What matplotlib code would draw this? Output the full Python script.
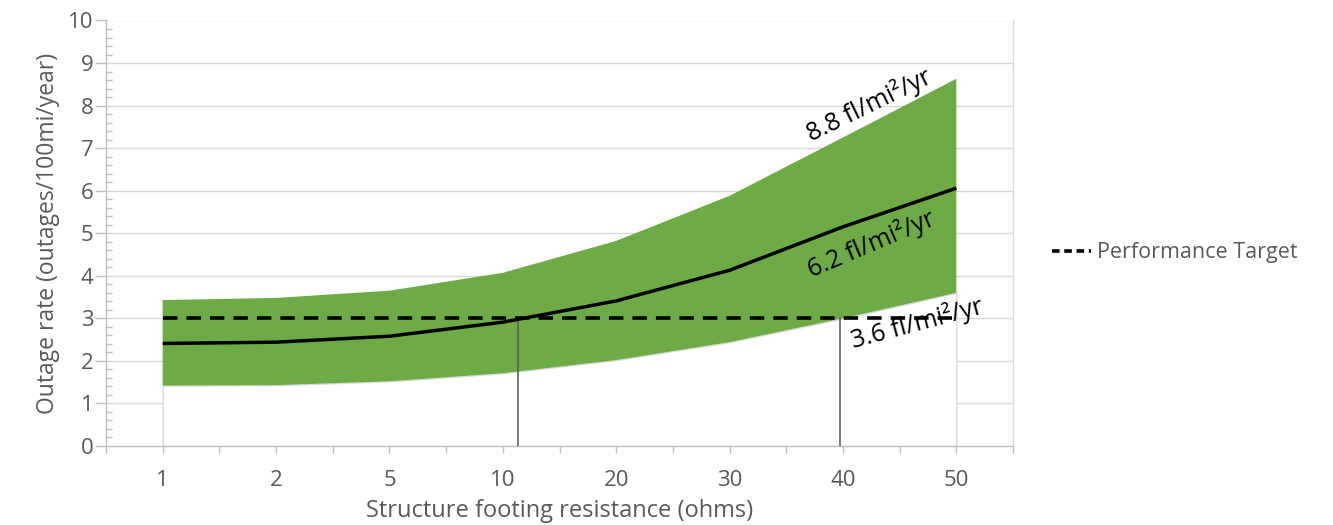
import matplotlib
matplotlib.use("Agg")
import matplotlib.pyplot as plt
from matplotlib.ticker import MultipleLocator, FixedLocator
from matplotlib.lines import Line2D
import numpy as np

plt.rcParams['font.family'] = ['Open Sans', 'DejaVu Sans']

# ---- data ----
resistance = ["1", "2", "5", "10", "20", "30", "40", "50"]
upper = [3.43, 3.48, 3.65, 4.07, 4.82, 5.88, 7.25, 8.63]
mean = [2.41, 2.44, 2.58, 2.91, 3.41, 4.13, 5.15, 6.06]
lower = [1.42, 1.43, 1.52, 1.71, 2.02, 2.44, 3.00, 3.60]
target = 3.0
drop_x = [3.13, 5.97]          # category positions of crossing lines
labels = ["8.8 fl/mi²/yr", "6.2 fl/mi²/yr", "3.6 fl/mi²/yr"]
label_pos = [(6.23, 8.01), (6.25, 4.74), (6.65, 2.89)]
label_rot = [26, 23, 15]

grey_text = "#595959"
grid_c = "#d9d9d9"
spine_c = "#bfbfbf"
green = "#6cab45"

fig = plt.figure(figsize=(13.33, 5.25), dpi=100)
ax = fig.add_axes([106/1333, 1-446/525, (1013-106)/1333, (446-20.5)/525])

x = np.arange(len(resistance))

for yv in range(1, 11):
    ax.axhline(yv, color=grid_c, lw=1.0, zorder=0)

ax.fill_between(x, 0, lower, facecolor="white", edgecolor=grid_c, lw=1.0, zorder=1)
ax.fill_between(x, lower, upper, facecolor=green, edgecolor="none", zorder=2)
ax.plot(x, mean, color="black", lw=2.5, zorder=4, solid_capstyle="butt")
ax.plot(x, [target]*len(x), color="black", lw=2.6, ls=(0, (4, 2.5)), zorder=5)
for dx in drop_x:
    ax.plot([dx, dx], [0, target], color="#555555", lw=1.1, zorder=3)

for t, (tx, ty), r in zip(labels, label_pos, label_rot):
    ax.text(tx, ty, t, rotation=r, ha="center", va="center", fontsize=18,
            color="black", zorder=6, rotation_mode="anchor")

ax.set_xlim(-0.5, len(x) - 0.5)
ax.set_ylim(0, 10)

ax.set_xticks(x)
ax.set_xticklabels(resistance)
ax.xaxis.set_minor_locator(FixedLocator(np.arange(-0.5, len(x), 1.0)))
ax.tick_params(axis="x", which="major", length=5, width=1, color=spine_c,
               labelsize=16, labelcolor=grey_text, pad=12)
ax.tick_params(axis="x", which="minor", length=5, width=1, color=spine_c)

ax.yaxis.set_major_locator(MultipleLocator(1))
ax.yaxis.set_minor_locator(MultipleLocator(0.2))
ax.tick_params(axis="y", which="major", length=8, width=1, color=spine_c,
               labelsize=16, labelcolor=grey_text, pad=1)
ax.tick_params(axis="y", which="minor", direction="in", length=4, width=1, color=spine_c)

for s in ["left", "bottom", "right"]:
    ax.spines[s].set_color(spine_c)
    ax.spines[s].set_linewidth(1.0)
ax.spines["right"].set_color(grid_c)
ax.spines["top"].set_visible(False)

ax.set_xlabel("Structure footing resistance (ohms)", fontsize=17, color=grey_text, labelpad=6)
ax.set_ylabel("Outage rate (outages/100mi/year)", fontsize=16.5, color=grey_text, labelpad=6)

handle = Line2D([], [], color="black", lw=2.6, ls=(0, (2.1, 1.3)))
fig.legend([handle], ["Performance Target"], loc="center left",
           bbox_to_anchor=(1052/1333, 1-253/525), frameon=False, fontsize=15.5,
           labelcolor=grey_text, handlelength=1.8, handletextpad=0.3,
           borderpad=0, borderaxespad=0)

fig.savefig("out.png", dpi=100)
